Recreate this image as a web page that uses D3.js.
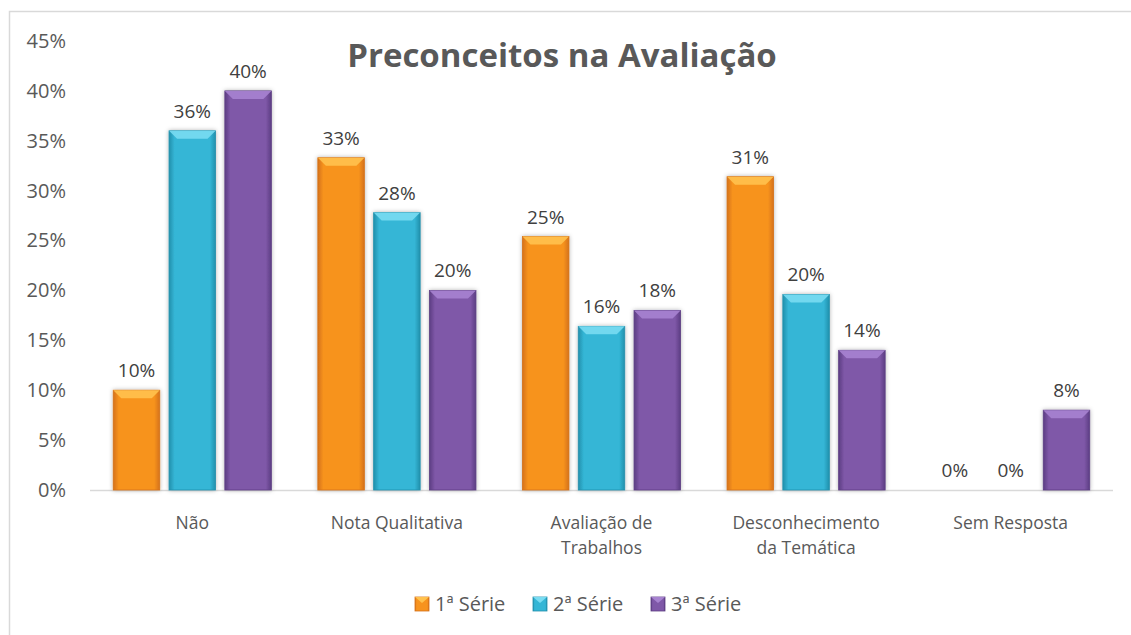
<!DOCTYPE html>
<html>
<head>
<meta charset="utf-8">
<title>Preconceitos na Avaliação</title>
<script src="https://d3js.org/d3.v7.min.js"></script>
<style>
    body { margin: 0; background: #fff; }
    text { font-family: "Open Sans", sans-serif; }
</style>
</head>
<body>
<svg width="1131" height="635"></svg>
<script>
    // dados
    var categories = ["Não", "Nota Qualitativa", "Avaliação de|Trabalhos", "Desconhecimento|da Temática", "Sem Resposta"];
    var seriesNames = ["1ª Série", "2ª Série", "3ª Série"];
    var serie1 = [0.10, 0.333, 0.254, 0.314, 0];
    var serie2 = [0.36, 0.278, 0.164, 0.196, 0];
    var serie3 = [0.40, 0.20, 0.18, 0.14, 0.08];
    var yTicks = [0, 0.05, 0.10, 0.15, 0.20, 0.25, 0.30, 0.35, 0.40, 0.45];

    var allSeries = [serie1, serie2, serie3];
    var colors = [
        {base: "#F7931E", edge: "#D5721A", top: "#FFC24E"},
        {base: "#34B6D6", edge: "#2290AC", top: "#79DCF2"},
        {base: "#7F58A8", edge: "#5C3D83", top: "#A783D0"}
    ];

    var svg = d3.select("svg");
    var defs = svg.append("defs");

    // borda do gráfico (cortado à direita e embaixo)
    svg.append("path")
        .attr("d", "M9.5,635 L9.5,11.5 L1131,11.5")
        .attr("fill", "none")
        .attr("stroke", "#d9d9d9")
        .attr("stroke-width", 1.5);

    var x0 = d3.scaleBand().domain(d3.range(categories.length)).range([90, 1113]);
    var w = x0.step() / 4.4;
    var x1 = d3.scaleBand().domain(d3.range(3)).range([0, 3.4 * w]).paddingInner(1 / 6);
    var y = d3.scaleLinear().domain([0, 0.45]).range([490, 41]);

    colors.forEach(function (c, i) {
        var g = defs.append("linearGradient").attr("id", "grad" + i)
            .attr("x1", 0).attr("x2", 1).attr("y1", 0).attr("y2", 0);
        g.append("stop").attr("offset", "0%").attr("stop-color", c.edge);
        g.append("stop").attr("offset", "12%").attr("stop-color", c.base);
        g.append("stop").attr("offset", "88%").attr("stop-color", c.base);
        g.append("stop").attr("offset", "100%").attr("stop-color", c.edge);
    });
    var f = defs.append("filter").attr("id", "shadow")
        .attr("x", "-20%").attr("y", "-20%").attr("width", "140%").attr("height", "140%");
    f.append("feDropShadow").attr("dx", 0).attr("dy", 0).attr("stdDeviation", 2)
        .attr("flood-color", "#000").attr("flood-opacity", 0.3);

    // eixo Y
    var yAxis = d3.axisLeft(y).tickValues(yTicks).tickFormat(d3.format(".0%")).tickSize(0).tickPadding(0);
    var ga = svg.append("g").attr("transform", "translate(66,0)").call(yAxis);
    ga.select(".domain").remove();
    ga.selectAll("text").attr("font-size", 20).attr("fill", "#595959")
        .attr("font-family", "Open Sans, sans-serif");

    // linha do eixo X
    svg.append("line")
        .attr("x1", 90).attr("x2", 1113).attr("y1", y(0) + 0.5).attr("y2", y(0) + 0.5)
        .attr("stroke", "#d9d9d9").attr("stroke-width", 1.5);

    // barras
    var padOuter = (x0.step() - 3.4 * w) / 2;
    allSeries.forEach(function (vals, s) {
        var gs = svg.append("g");
        vals.forEach(function (v, i) {
            var bx = x0(i) + padOuter + x1(s);
            var bw = x1.bandwidth();
            var top = y(v), h = y(0) - y(v);
            if (h > 0) {
                var bar = gs.append("g").attr("filter", "url(#shadow)");
                bar.append("rect")
                    .attr("x", bx).attr("y", top).attr("width", bw).attr("height", h)
                    .attr("fill", "url(#grad" + s + ")")
                    .attr("stroke", colors[s].edge).attr("stroke-width", 0.8);
                var bv = Math.min(8, h / 2);
                bar.append("path")
                    .attr("d", "M" + bx + "," + top + " L" + (bx + bw) + "," + top +
                        " L" + (bx + bw - bv) + "," + (top + bv) + " L" + (bx + bv) + "," + (top + bv) + "Z")
                    .attr("fill", colors[s].top).attr("opacity", 0.9);
            }
            gs.append("text")
                .attr("x", bx + bw / 2).attr("y", top - 13)
                .attr("text-anchor", "middle")
                .attr("font-size", 19).attr("fill", "#404040")
                .text(d3.format(".0%")(v));
        });
    });

    // rótulos das categorias
    categories.forEach(function (c, i) {
        var lines = c.split("|");
        var t = svg.append("text")
            .attr("x", x0(i) + x0.bandwidth() / 2).attr("y", 529)
            .attr("text-anchor", "middle").attr("font-size", 17.5).attr("fill", "#595959");
        lines.forEach(function (l, k) {
            t.append("tspan").attr("x", x0(i) + x0.bandwidth() / 2).attr("dy", k === 0 ? 0 : 25).text(l);
        });
    });

    // título
    svg.append("text")
        .attr("x", 562).attr("y", 67)
        .attr("text-anchor", "middle")
        .attr("font-size", 33).attr("font-weight", "bold").attr("fill", "#595959")
        .text("Preconceitos na Avaliação");

    // legenda
    var legX = [415, 533, 651];
    seriesNames.forEach(function (n, i) {
        var lg = svg.append("g").attr("transform", "translate(" + legX[i] + ",597)");
        lg.append("rect").attr("width", 14).attr("height", 14)
            .attr("fill", "url(#grad" + i + ")").attr("stroke", colors[i].edge).attr("stroke-width", 0.8);
        lg.append("path").attr("d", "M0,0 L14,0 L7,6Z").attr("fill", colors[i].top);
        lg.append("text").attr("x", 20).attr("y", 14).attr("font-size", 20).attr("fill", "#595959").text(n);
    });
</script>
</body>
</html>
